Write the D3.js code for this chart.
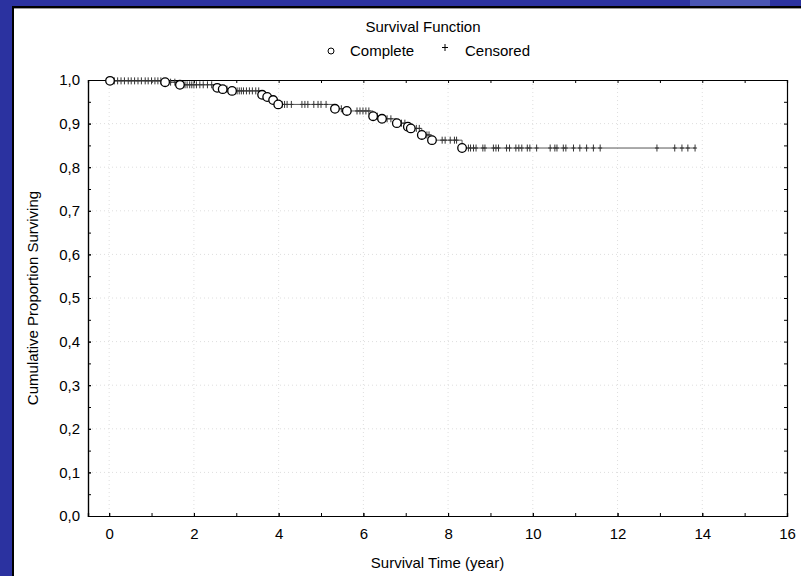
<!DOCTYPE html>
<html>
<head>
<meta charset="utf-8">
<script src="https://cdn.jsdelivr.net/npm/d3@7"></script>
<style>
    body { margin: 0; background: #2b32a0; }
    svg { display: block; font-family: "Liberation Sans", Arial, sans-serif; }
</style>
</head>
<body>
<svg id="chart" width="801" height="576"></svg>
<script>
// complete (event) times and survival after each event
const eventTimes = [0.02, 1.32, 1.67, 2.55, 2.68, 2.90, 3.61, 3.73, 3.87, 3.99,
                    5.33, 5.61, 6.23, 6.44, 6.79, 7.05, 7.12, 7.38, 7.62, 8.33];
const eventSurv = [0.998, 0.995, 0.989, 0.982, 0.979, 0.975, 0.966, 0.961, 0.954, 0.944,
                   0.934, 0.929, 0.917, 0.911, 0.901, 0.893, 0.889, 0.874, 0.862, 0.844];

// censored times
const censorTimes = [
    0.12, 0.2, 0.28, 0.36, 0.45, 0.52, 0.6, 0.68, 0.76, 0.85, 0.92, 1.0, 1.08, 1.15, 1.22,
    1.45, 1.55,
    1.74, 1.79, 1.84, 1.9, 1.95, 2.0, 2.06, 2.14, 2.22, 2.32, 2.42,
    2.78,
    2.97, 3.02, 3.07, 3.12, 3.17, 3.24, 3.31, 3.38, 3.46, 3.53,
    4.08, 4.14, 4.2, 4.3, 4.55, 4.62, 4.69, 4.83, 4.93, 5.0, 5.12,
    5.48,
    5.85, 5.92, 5.99, 6.06, 6.13,
    6.33,
    6.56, 6.65,
    6.9, 6.98,
    7.25, 7.32,
    7.5, 7.55,
    7.86, 7.93, 8.05, 8.15, 8.2,
    8.48, 8.53, 8.6, 8.66, 8.82, 8.87, 9.07, 9.13, 9.19, 9.38, 9.45, 9.6, 9.67, 9.74,
    9.87, 9.93, 10.09, 10.41, 10.52, 10.57, 10.72, 10.78, 10.96, 11.11, 11.27, 11.43, 11.59,
    12.93, 13.35, 13.52, 13.66, 13.83
];

const xTickValues = [0, 2, 4, 6, 8, 10, 12, 14, 16];
const yTickValues = [0, 0.1, 0.2, 0.3, 0.4, 0.5, 0.6, 0.7, 0.8, 0.9, 1.0];
const xMinorValues = d3.range(0, 17, 1);
const yMinorValues = d3.range(0, 21).map(i => i * 0.05);

const chartTitle = "Survival Function";
const legendLabels = ["Complete", "Censored"];
const xTitle = "Survival Time (year)";
const yTitle = "Cumulative Proportion Surviving";

const width = 801, height = 576;
const margin = { top: 80, right: 14, bottom: 60, left: 88 };
const innerW = width - margin.left - margin.right;
const innerH = height - margin.top - margin.bottom;

const svg = d3.select("#chart");

// white panel with the black frame
svg.append("rect")
    .attr("x", 0).attr("y", 0)
    .attr("width", width).attr("height", height)
    .attr("fill", "#2b32a0");
svg.append("rect")
    .attr("x", 690).attr("y", 0)
    .attr("width", 80).attr("height", 6)
    .attr("fill", "#4a56b4");
svg.append("rect")
    .attr("x", 13).attr("y", 7)
    .attr("width", width).attr("height", height)
    .attr("fill", "#ffffff")
    .attr("stroke", "#000")
    .attr("stroke-width", 2);
svg.append("line")
    .attr("x1", 14).attr("x2", width)
    .attr("y1", 8.5).attr("y2", 8.5)
    .attr("stroke", "#999");

const g = svg.append("g")
    .attr("transform", `translate(${margin.left},${margin.top})`);

const x = d3.scaleLinear().domain([-0.5, 16]).range([0, innerW]);
const y = d3.scaleLinear().domain([0, 1]).range([innerH, 0]);

// grid (very faint dots)
g.append("g").selectAll("line")
    .data(xTickValues.filter(d => d < 16))
    .enter().append("line")
    .attr("x1", d => x(d)).attr("x2", d => x(d))
    .attr("y1", 0).attr("y2", innerH)
    .attr("stroke", "#dedede")
    .attr("stroke-dasharray", "1,3");

g.append("g").selectAll("line")
    .data(yTickValues.filter(d => d > 0 && d < 1))
    .enter().append("line")
    .attr("x1", 0).attr("x2", innerW)
    .attr("y1", d => y(d)).attr("y2", d => y(d))
    .attr("stroke", "#dedede")
    .attr("stroke-dasharray", "1,3");

const fmt = d => d3.format(".1f")(d).replace(".", ",");

// axes, ticks point inward
const xAxis = g.append("g")
    .attr("transform", `translate(0,${innerH})`)
    .call(d3.axisBottom(x).tickValues(xTickValues).tickSize(-3).tickPadding(12));
const xMinor = g.append("g")
    .attr("transform", `translate(0,${innerH})`)
    .call(d3.axisBottom(x).tickValues(xMinorValues).tickSize(-3).tickFormat(""));
const yAxis = g.append("g")
    .call(d3.axisLeft(y).tickValues(yTickValues).tickSize(-3).tickPadding(8).tickFormat(fmt));
const yMinor = g.append("g")
    .call(d3.axisLeft(y).tickValues(yMinorValues).tickSize(-3).tickFormat(""));
const xTop = g.append("g")
    .call(d3.axisTop(x).tickValues(xMinorValues).tickSize(-3).tickFormat(""));
const yRight = g.append("g")
    .attr("transform", `translate(${innerW},0)`)
    .call(d3.axisRight(y).tickValues(yMinorValues).tickSize(-3).tickFormat(""));

[xAxis, xMinor, yAxis, yMinor, xTop, yRight].forEach(a => {
    a.select(".domain").attr("stroke", "#000").attr("stroke-width", 1.2);
    a.selectAll(".tick line").attr("stroke", "#000");
    a.selectAll("text")
        .attr("font-family", "\"Liberation Sans\", Arial, sans-serif")
        .attr("font-size", 15)
        .attr("fill", "#000");
});

// step curve
const steps = [[0, 1]].concat(eventTimes.map((t, i) => [t, eventSurv[i]]));
const lastT = d3.max(censorTimes);
steps.push([lastT, eventSurv[eventSurv.length - 1]]);

function survAt(t) {
    let s = 1;
    eventTimes.forEach((et, i) => { if (et <= t) s = eventSurv[i]; });
    return s;
}

g.append("path")
    .datum(steps)
    .attr("fill", "none")
    .attr("stroke", "#555")
    .attr("stroke-width", 1)
    .attr("d", d3.line().x(d => x(d[0])).y(d => y(d[1])).curve(d3.curveStepAfter));

// censored marks
const censor = g.append("g").selectAll(".censor")
    .data(censorTimes)
    .enter().append("g")
    .attr("class", "censor")
    .attr("transform", d => `translate(${x(d)},${y(survAt(d))})`);
censor.append("line")
    .attr("x1", 0).attr("x2", 0).attr("y1", -3.5).attr("y2", 3.5)
    .attr("stroke", "#333").attr("stroke-width", 1);
censor.append("line")
    .attr("x1", -2).attr("x2", 2).attr("y1", 0).attr("y2", 0)
    .attr("stroke", "#333").attr("stroke-width", 1);

// complete marks
g.append("g").selectAll("circle")
    .data(eventTimes)
    .enter().append("circle")
    .attr("cx", d => x(d))
    .attr("cy", (d, i) => y(eventSurv[i]))
    .attr("r", 4.3)
    .attr("fill", "#fff")
    .attr("stroke", "#000")
    .attr("stroke-width", 1.3);

// title and legend
svg.append("text")
    .attr("x", 423).attr("y", 32)
    .attr("text-anchor", "middle")
    .attr("font-size", 15)
    .text(chartTitle);

svg.append("circle")
    .attr("cx", 331).attr("cy", 51).attr("r", 3)
    .attr("fill", "#fff").attr("stroke", "#000").attr("stroke-width", 1);
svg.append("text")
    .attr("x", 350).attr("y", 56)
    .attr("font-size", 15)
    .text(legendLabels[0]);
svg.append("line")
    .attr("x1", 445).attr("x2", 445).attr("y1", 44).attr("y2", 51)
    .attr("stroke", "#000");
svg.append("line")
    .attr("x1", 442).attr("x2", 448).attr("y1", 47.5).attr("y2", 47.5)
    .attr("stroke", "#000");
svg.append("text")
    .attr("x", 465).attr("y", 56)
    .attr("font-size", 15)
    .text(legendLabels[1]);

// axis titles
svg.append("text")
    .attr("x", margin.left + innerW / 2).attr("y", 568)
    .attr("text-anchor", "middle")
    .attr("font-size", 15)
    .text(xTitle);

svg.append("text")
    .attr("transform", `translate(38,${margin.top + innerH / 2}) rotate(-90)`)
    .attr("text-anchor", "middle")
    .attr("font-size", 15)
    .text(yTitle);
</script>
</body>
</html>
